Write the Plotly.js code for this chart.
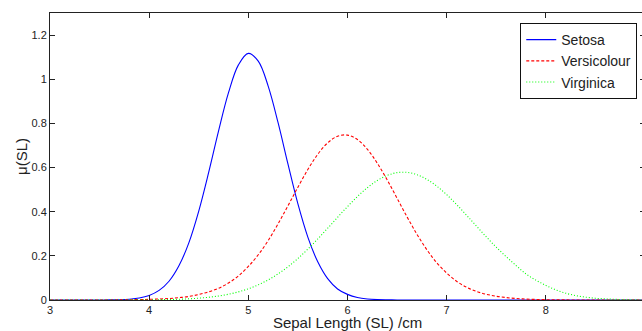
<!DOCTYPE html>
<html>
<head>
<meta charset="utf-8">
<script src="https://cdn.plot.ly/plotly-3.0.1.min.js"></script>
<style>
html,body{margin:0;padding:0;background:#fff;overflow:hidden;}
#wrap{width:642px;height:331px;overflow:hidden;position:relative;}
#chart{width:645px;height:331px;}
</style>
</head>
<body>
<div id="wrap"><div id="chart"></div></div>
<script>
// Sepal length grid (cm)
const sepalLength = [3.0,3.1,3.2,3.3,3.4,3.5,3.6,3.7,3.8,3.9,
  4.0,4.1,4.2,4.3,4.4,4.5,4.6,4.7,4.8,4.9,
  5.0,5.1,5.2,5.3,5.4,5.5,5.6,5.7,5.8,5.9,
  6.0,6.1,6.2,6.3,6.4,6.5,6.6,6.7,6.8,6.9,
  7.0,7.1,7.2,7.3,7.4,7.5,7.6,7.7,7.8,7.9,
  8.0,8.1,8.2,8.3,8.4,8.5,8.6,8.7,8.8,8.9,9.0];

const setosa = [0,0,0,0,0,0.0001,0.0005,0.0013,0.0036,0.0089,
  0.0205,0.0434,0.085,0.155,0.259,0.403,0.578,0.766,0.939,1.065,
  1.117,1.082,0.969,0.803,0.615,0.435,0.285,0.173,0.0966,0.050,
  0.0255,0.0115,0.0048,0.0018,0.0007,0.0002,0,0,0,0,
  0,0,0,0,0,0,0,0,0,0,
  0,0,0,0,0,0,0,0,0,0,0];

const versicolour = [0,0,0,0,0,0,0.0002,0.0005,0.001,0.002,
  0.003,0.0045,0.0068,0.0105,0.016,0.025,0.037,0.053,0.077,0.109,
  0.152,0.205,0.269,0.345,0.427,0.511,0.591,0.660,0.712,0.742,
  0.747,0.727,0.683,0.620,0.544,0.461,0.377,0.298,0.228,0.169,
  0.122,0.085,0.058,0.039,0.026,0.017,0.011,0.007,0.004,0.0025,
  0.0015,0.0008,0.0004,0.0002,0.0001,0,0,0,0,0,0];

const virginica = [0,0,0,0,0,0.0001,0.0001,0.0002,0.0003,0.0005,
  0.0008,0.0014,0.0022,0.0035,0.0054,0.0083,0.0124,0.0182,0.0261,0.0368,
  0.0508,0.0687,0.0910,0.1184,0.1507,0.188,0.2305,0.2764,0.325,0.3746,
  0.4231,0.4686,0.5086,0.5411,0.5644,0.5769,0.5781,0.5678,0.5466,0.5158,
  0.4771,0.4326,0.3844,0.3348,0.2859,0.2393,0.1963,0.1560,0.118,0.090,
  0.066,0.046,0.031,0.020,0.013,0.008,0.005,0.003,0.002,0.001,0.0006];

const seriesNames = ["Setosa","Versicolour","Virginica"];

const axisColor = "#222";
const fontFam = "Liberation Sans, Arial, sans-serif";

const traces = [
  {x: sepalLength, y: setosa, name: seriesNames[0], mode: "lines",
   line: {color: "#0000ff", width: 1.1, shape: "spline", smoothing: 1}},
  {x: sepalLength, y: versicolour, name: seriesNames[1], mode: "lines",
   line: {color: "#ff0000", width: 1.1, dash: "3px,2px", shape: "spline", smoothing: 1}},
  {x: sepalLength, y: virginica, name: seriesNames[2], mode: "lines",
   line: {color: "#00ff00", width: 1.1, dash: "1px,2px", shape: "spline", smoothing: 1}}
];

const layout = {
  width: 645, height: 331,
  margin: {l: 50, r: 0, t: 13, b: 31},
  paper_bgcolor: "#fff", plot_bgcolor: "#fff",
  font: {family: fontFam, color: "#222", size: 11},
  showlegend: true,
  legend: {
    x: 0.987, y: 0.965, xanchor: "right", yanchor: "top",
    bgcolor: "#fff", bordercolor: "#111", borderwidth: 1,
    font: {family: fontFam, size: 14, color: "#222"},
    tracegroupgap: 0
  },
  xaxis: {
    range: [3, 9], tickvals: [3,4,5,6,7,8], ticktext: ["3","4","5","6","7","8"],
    ticks: "inside", ticklen: 5, tickcolor: axisColor, tickwidth: 1,
    showline: true, linecolor: axisColor, linewidth: 1, mirror: "ticks",
    showgrid: false, zeroline: false,
    tickfont: {size: 11, family: fontFam, color: "#222"},
    title: {text: "Sepal Length (SL) /cm", font: {size: 15, family: fontFam, color: "#222"}, standoff: 3}
  },
  yaxis: {
    range: [0, 1.3], tickvals: [0,0.2,0.4,0.6,0.8,1,1.2],
    ticktext: ["0","0.2","0.4","0.6","0.8","1","1.2"],
    ticks: "inside", ticklen: 5, tickcolor: axisColor, tickwidth: 1,
    showline: true, linecolor: axisColor, linewidth: 1, mirror: "ticks",
    showgrid: false, zeroline: false,
    tickfont: {size: 11, family: fontFam, color: "#222"},
    title: {text: "μ(SL)", font: {size: 15, family: fontFam, color: "#222"}, standoff: 0}
  }
};

Plotly.newPlot("chart", traces, layout, {displayModeBar: false, staticPlot: true});
</script>
</body>
</html>
